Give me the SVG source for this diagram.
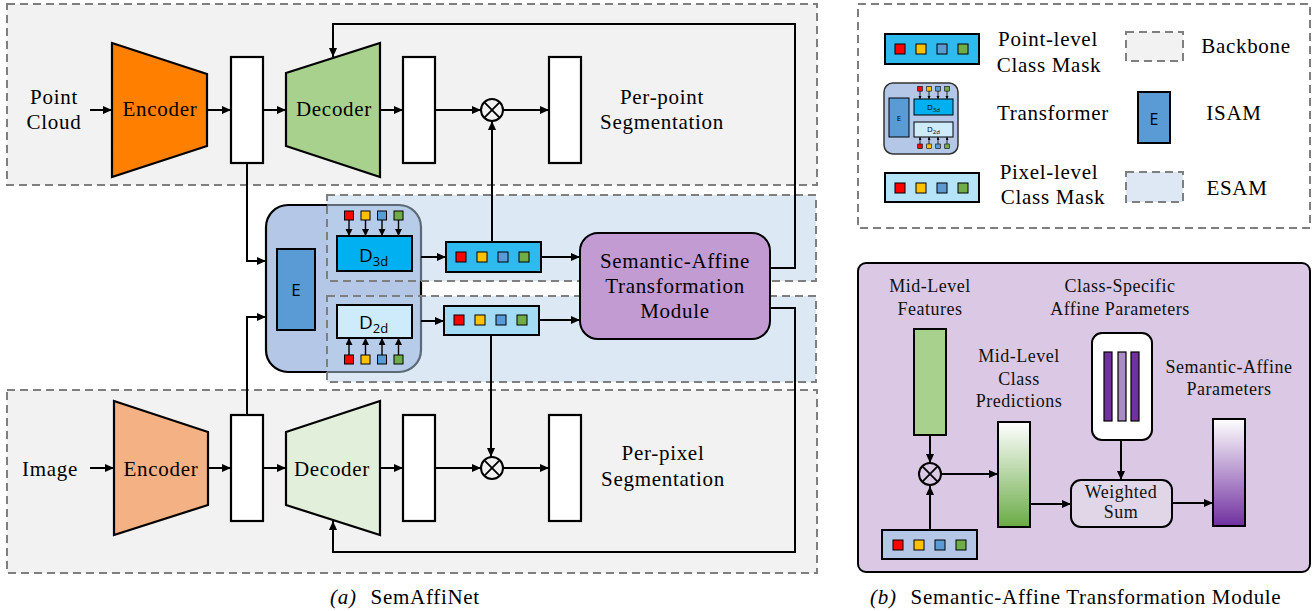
<svg xmlns="http://www.w3.org/2000/svg" xmlns:xlink="http://www.w3.org/1999/xlink" width="1313" height="611" viewBox="0 0 1313 611">
<style>
.t{font-family:"Liberation Serif",serif;font-size:21px;letter-spacing:0.7px;text-anchor:middle;fill:#000}
.tl{font-family:"Liberation Serif",serif;font-size:21px;letter-spacing:0.7px;text-anchor:start;fill:#000}
.tb{font-family:"Liberation Serif",serif;font-size:18px;letter-spacing:0.5px;text-anchor:middle;fill:#111}
.sans{font-family:"Open Sans","DejaVu Sans",sans-serif;fill:#000}
.bb{fill:#f2f2f2;stroke:#7f7f7f;stroke-width:2;stroke-dasharray:8 5}
.esam{fill:#b9d1ea;fill-opacity:0.5;stroke:#7f7f7f;stroke-width:2;stroke-dasharray:8 5}
.box{fill:#fff;stroke:#000;stroke-width:2.2}
.ka{fill:none;stroke:#000;stroke-width:2;marker-end:url(#ah)}
.ks{fill:none;stroke:#000;stroke-width:1.4;marker-end:url(#ahs)}
.kt{fill:none;stroke:#000;stroke-width:0.8;marker-end:url(#aht)}
.sq{stroke:#000;stroke-width:1}
</style>
<defs>
<marker id="ah" markerUnits="userSpaceOnUse" markerWidth="10" markerHeight="9" refX="9" refY="4" orient="auto"><path d="M0,0 L9,4 L0,8 z" fill="#000"/></marker>
<marker id="ahs" markerUnits="userSpaceOnUse" markerWidth="8" markerHeight="8" refX="7" refY="3.5" orient="auto"><path d="M0,0 L7,3.5 L0,7 z" fill="#000"/></marker>
<marker id="aht" markerUnits="userSpaceOnUse" markerWidth="4" markerHeight="4" refX="3" refY="1.5" orient="auto"><path d="M0,0 L3,1.5 L0,3 z" fill="#000"/></marker>
<g id="sq">
<rect class="sq" x="10" y="-5" width="10" height="10" fill="#ff0000"/>
<rect class="sq" x="31" y="-5" width="10" height="10" fill="#ffc000"/>
<rect class="sq" x="52" y="-5" width="10" height="10" fill="#5b9bd5"/>
<rect class="sq" x="73" y="-5" width="10" height="10" fill="#70ad47"/>
</g>
<g id="sqt">
<rect class="sq" x="-4.5" y="0" width="9" height="9" fill="#ff0000"/>
<rect class="sq" x="12" y="0" width="9" height="9" fill="#ffc000"/>
<rect class="sq" x="28.5" y="0" width="9" height="9" fill="#5b9bd5"/>
<rect class="sq" x="45" y="0" width="9" height="9" fill="#70ad47"/>
</g>
<g id="sqm">
<rect x="-2.3" y="0" width="4.6" height="4.6" fill="#ff0000" stroke="#000" stroke-width="0.6"/>
<rect x="6.7" y="0" width="4.6" height="4.6" fill="#ffc000" stroke="#000" stroke-width="0.6"/>
<rect x="15.7" y="0" width="4.6" height="4.6" fill="#5b9bd5" stroke="#000" stroke-width="0.6"/>
<rect x="24.7" y="0" width="4.6" height="4.6" fill="#70ad47" stroke="#000" stroke-width="0.6"/>
</g>
<linearGradient id="gG" x1="0" y1="0" x2="0" y2="1"><stop offset="0" stop-color="#ffffff"/><stop offset="1" stop-color="#6aab45"/></linearGradient>
<linearGradient id="gP" x1="0" y1="0" x2="0" y2="1"><stop offset="0" stop-color="#ffffff"/><stop offset="1" stop-color="#7030a0"/></linearGradient>
</defs>

<g id="backbones">
<rect class="bb" x="7" y="4" width="810" height="181"/>
<rect class="bb" x="7" y="390" width="810" height="183"/>
</g>

<g id="transformer-bg">
<rect x="266" y="205" width="155" height="167" rx="22" fill="#b4c7e7" stroke="#000" stroke-width="2.2"/>
</g>

<g id="esam">
<rect class="esam" x="327" y="195" width="489" height="86"/>
<rect class="esam" x="327" y="296" width="489" height="86"/>
</g>

<g id="pc-label">
<text class="t" x="54" y="104">Point</text>
<text class="t" x="54" y="129">Cloud</text>
</g>
<g id="encoder-3d">
<polygon points="112,43 207,74 207,146 112,177" fill="#ff7f00" stroke="#000" stroke-width="2.2"/>
<text class="t" x="160" y="116">Encoder</text>
</g>
<g id="feat-3d"><rect class="box" x="231" y="57" width="32" height="106"/></g>
<g id="decoder-3d">
<polygon points="286,73 380,43 380,177 286,146" fill="#a9d18e" stroke="#000" stroke-width="2.2"/>
<text class="t" x="334" y="116">Decoder</text>
</g>
<g id="dec-out-3d"><rect class="box" x="403" y="57" width="32" height="106"/></g>
<g id="mul-3d">
<circle cx="492" cy="110" r="11" fill="none" stroke="#000" stroke-width="2"/>
<path d="M484.2,102.2 L499.8,117.8 M499.8,102.2 L484.2,117.8" stroke="#000" stroke-width="1.8"/>
</g>
<g id="seg-3d">
<rect class="box" x="549" y="57" width="32" height="106"/>
<text class="t" x="662" y="104">Per-point</text>
<text class="t" x="662" y="129">Segmentation</text>
</g>

<g id="img-label"><text class="t" x="50" y="476">Image</text></g>
<g id="encoder-2d">
<polygon points="114,401 208,432 208,505 114,535" fill="#f4b183" stroke="#000" stroke-width="2.2"/>
<text class="t" x="161" y="476">Encoder</text>
</g>
<g id="feat-2d"><rect class="box" x="231" y="415" width="32" height="106"/></g>
<g id="decoder-2d">
<polygon points="286,432 380,401 380,535 286,505" fill="#e2efda" stroke="#000" stroke-width="2.2"/>
<text class="t" x="332" y="476">Decoder</text>
</g>
<g id="dec-out-2d"><rect class="box" x="403" y="415" width="32" height="106"/></g>
<g id="mul-2d">
<circle cx="492" cy="468" r="11" fill="none" stroke="#000" stroke-width="2"/>
<path d="M484.2,460.2 L499.8,475.8 M499.8,460.2 L484.2,475.8" stroke="#000" stroke-width="1.8"/>
</g>
<g id="seg-2d">
<rect class="box" x="549" y="415" width="32" height="106"/>
<text class="t" x="663" y="460">Per-pixel</text>
<text class="t" x="663" y="486">Segmentation</text>
</g>

<g id="transformer">
<rect x="277" y="249" width="38" height="81" fill="#5b9bd5" stroke="#000" stroke-width="2"/>
<text class="sans" x="296" y="296" font-size="17" text-anchor="middle">E</text>
<use xlink:href="#sqt" x="349" y="211"/>
<path class="ks" d="M349,220 V236"/><path class="ks" d="M365.5,220 V236"/><path class="ks" d="M382,220 V236"/><path class="ks" d="M398.5,220 V236"/>
<rect x="337" y="236" width="75" height="35" fill="#00b0f0" stroke="#000" stroke-width="2"/>
<text class="sans" x="359" y="262" font-size="19">D<tspan font-size="13" dy="4">3d</tspan></text>
<rect x="337" y="305" width="75" height="33" fill="#cdebfb" stroke="#000" stroke-width="2"/>
<text class="sans" x="359" y="329" font-size="19">D<tspan font-size="13" dy="4">2d</tspan></text>
<use xlink:href="#sqt" x="349" y="355"/>
<path class="ks" d="M349,355 V338"/><path class="ks" d="M365.5,355 V338"/><path class="ks" d="M382,355 V338"/><path class="ks" d="M398.5,355 V338"/>
</g>

<g id="point-mask">
<rect x="446" y="242" width="95" height="30" fill="#2fbaef" stroke="#000" stroke-width="2"/>
<use xlink:href="#sq" x="446" y="257"/>
</g>
<g id="pixel-mask">
<rect x="444" y="306" width="95" height="29" fill="#a3daf4" stroke="#000" stroke-width="2"/>
<use xlink:href="#sq" x="444" y="320"/>
</g>

<g id="satm">
<rect x="580" y="233" width="190" height="106" rx="18" fill="#c39bd3" stroke="#000" stroke-width="2"/>
<text class="t" x="675" y="268">Semantic-Affine</text>
<text class="t" x="675" y="293">Transformation</text>
<text class="t" x="675" y="318">Module</text>
</g>

<g id="legend">
<rect x="858" y="4" width="452" height="224" fill="#fff" stroke="#7f7f7f" stroke-width="2" stroke-dasharray="8 5"/>
<rect x="885" y="34" width="94" height="30" fill="#2fbaef" stroke="#000" stroke-width="2"/>
<use xlink:href="#sq" x="885" y="49"/>
<text class="t" x="1048" y="46">Point-level</text>
<text class="t" x="1049" y="72">Class Mask</text>
<rect class="bb" x="1126" y="32" width="57" height="29"/>
<text class="t" x="1246" y="53">Backbone</text>
<rect x="884" y="83" width="74" height="71" rx="9" fill="#b4c7e7" stroke="#333" stroke-width="1.5"/>
<rect x="889" y="98" width="20" height="39" fill="#5b9bd5" stroke="#000" stroke-width="1"/>
<text class="sans" x="899" y="121" font-size="8" text-anchor="middle">E</text>
<use xlink:href="#sqm" x="920" y="86.5"/>
<path class="kt" d="M920,91 V99"/><path class="kt" d="M929,91 V99"/><path class="kt" d="M938,91 V99"/><path class="kt" d="M947,91 V99"/>
<rect x="914" y="99" width="39" height="16" fill="#00b0f0" stroke="#000" stroke-width="1"/>
<text class="sans" x="927" y="110" font-size="8">D<tspan font-size="6" dy="1.5">3d</tspan></text>
<rect x="914" y="122" width="39" height="15" fill="#cdebfb" stroke="#000" stroke-width="1"/>
<text class="sans" x="927" y="132" font-size="8">D<tspan font-size="6" dy="1.5">2d</tspan></text>
<use xlink:href="#sqm" x="920" y="144"/>
<path class="kt" d="M920,144 V137"/><path class="kt" d="M929,144 V137"/><path class="kt" d="M938,144 V137"/><path class="kt" d="M947,144 V137"/>
<text class="t" x="1053" y="120">Transformer</text>
<rect x="1138" y="92" width="32" height="51" fill="#5b9bd5" stroke="#000" stroke-width="2"/>
<text class="sans" x="1154" y="125" font-size="16" text-anchor="middle">E</text>
<text class="t" x="1234" y="120">ISAM</text>
<rect x="885" y="173" width="94" height="29" fill="#b5e3f7" stroke="#000" stroke-width="2"/>
<use xlink:href="#sq" x="885" y="188"/>
<text class="t" x="1049" y="179">Pixel-level</text>
<text class="t" x="1053" y="204">Class Mask</text>
<rect x="1126" y="172" width="57" height="30" fill="#dde8f4" stroke="#7f7f7f" stroke-width="2" stroke-dasharray="8 5"/>
<text class="t" x="1237" y="195">ESAM</text>
</g>

<g id="panel-b">
<rect x="858" y="263" width="452" height="309" rx="8" fill="#dac8e4" stroke="#000" stroke-width="2"/>
</g>
<g id="mid-features">
<text class="tb" x="930" y="292">Mid-Level</text>
<text class="tb" x="930" y="315">Features</text>
<rect x="914" y="329" width="32" height="106" fill="#a9d18e" stroke="#000" stroke-width="2"/>
</g>
<g id="mul-b">
<circle cx="930" cy="474" r="11" fill="none" stroke="#000" stroke-width="2"/>
<path d="M922.2,466.2 L937.8,481.8 M937.8,466.2 L922.2,481.8" stroke="#000" stroke-width="1.8"/>
</g>
<g id="mask-b">
<rect x="882" y="530" width="95" height="29" fill="#b4c7e7" stroke="#000" stroke-width="2"/>
<use xlink:href="#sq" x="883" y="545"/>
</g>
<g id="mid-class">
<text class="tb" x="1019" y="362">Mid-Level</text>
<text class="tb" x="1019" y="385">Class</text>
<text class="tb" x="1019" y="407">Predictions</text>
<rect x="998" y="422" width="32" height="105" fill="url(#gG)" stroke="#000" stroke-width="2"/>
</g>
<g id="class-affine">
<text class="tb" x="1120" y="292">Class-Specific</text>
<text class="tb" x="1120" y="315">Affine Parameters</text>
<rect x="1092" y="333" width="60" height="107" rx="10" fill="#fff" stroke="#000" stroke-width="2"/>
<rect x="1104" y="352" width="8" height="69" fill="#7030a0" stroke="#000" stroke-width="1.2"/>
<rect x="1118" y="352" width="8" height="69" fill="#a98bc6" stroke="#000" stroke-width="1.2"/>
<rect x="1131" y="352" width="8" height="69" fill="#7030a0" stroke="#000" stroke-width="1.2"/>
</g>
<g id="weighted-sum">
<rect x="1071" y="480" width="101" height="47" rx="10" fill="#e0d6e8" stroke="#000" stroke-width="2"/>
<text class="tb" x="1121" y="498" font-size="16">Weighted</text>
<text class="tb" x="1121" y="518" font-size="16">Sum</text>
</g>
<g id="sa-params">
<text class="tb" x="1229" y="373">Semantic-Affine</text>
<text class="tb" x="1229" y="395">Parameters</text>
<rect x="1213" y="419" width="32" height="107" fill="url(#gP)" stroke="#000" stroke-width="2"/>
</g>

<g id="connectors">
<path class="ka" d="M90,110 H112"/>
<path class="ka" d="M207,110 H231"/>
<path class="ka" d="M263,110 H286"/>
<path class="ka" d="M380,110 H403"/>
<path class="ka" d="M435,110 H481"/>
<path class="ka" d="M503,110 H549"/>
<path class="ka" d="M90,468 H114"/>
<path class="ka" d="M208,468 H231"/>
<path class="ka" d="M263,468 H286"/>
<path class="ka" d="M380,468 H403"/>
<path class="ka" d="M435,468 H481"/>
<path class="ka" d="M503,468 H549"/>
<path class="ka" d="M247,163 V261 H266"/>
<path class="ka" d="M247,415 V317 H266"/>
<path class="ka" d="M421,257 H446"/>
<path class="ka" d="M421,321 H444"/>
<path class="ka" d="M541,257 H580"/>
<path class="ka" d="M539,320 H580"/>
<path class="ka" d="M492,242 V121"/>
<path class="ka" d="M491,335 V457"/>
<path class="ka" d="M770,268 H795 V24 H333 V57"/>
<path class="ka" d="M770,308 H795 V552 H333 V521"/>
<path class="ka" d="M930,435 V463"/>
<path class="ka" d="M930,530 V486"/>
<path class="ka" d="M941,474 H998"/>
<path class="ka" d="M1030,504 H1071"/>
<path class="ka" d="M1121,440 V480"/>
<path class="ka" d="M1172,503 H1213"/>
</g>

<g id="captions">
<text class="tl" x="330" y="604"><tspan font-style="italic">(a)</tspan><tspan dx="14">SemAffiNet</tspan></text>
<text class="tl" x="870" y="604"><tspan font-style="italic">(b)</tspan><tspan dx="14">Semantic-Affine Transformation Module</tspan></text>
</g>
</svg>
